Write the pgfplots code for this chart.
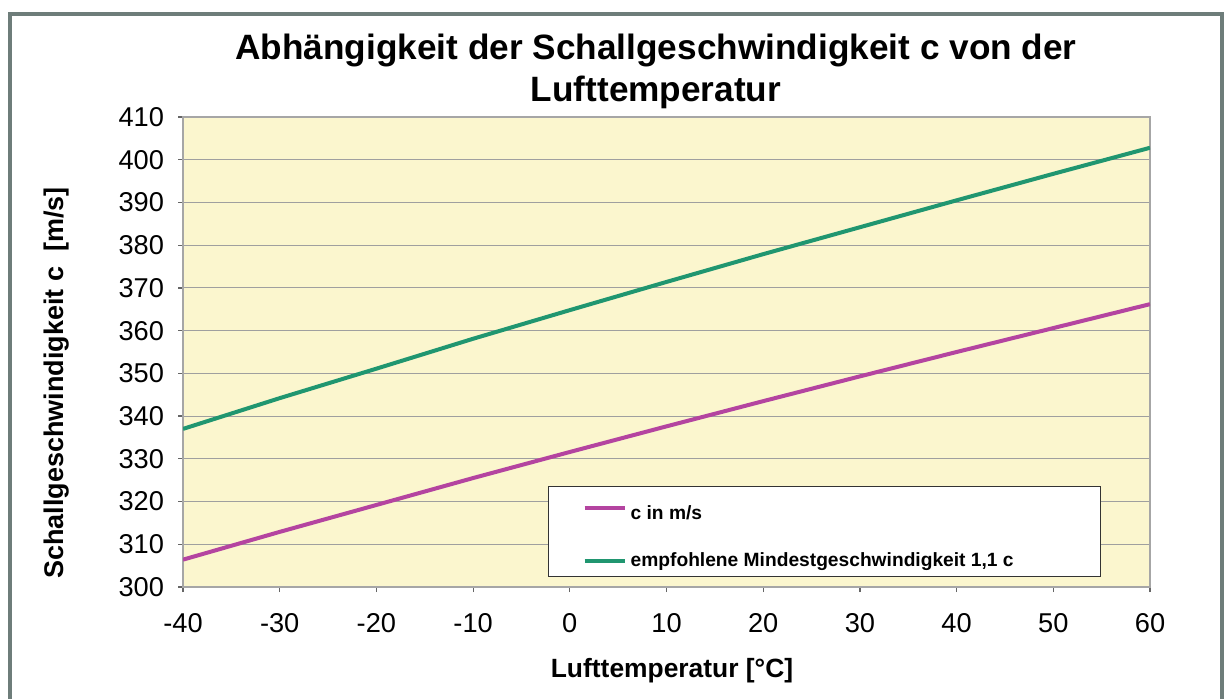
\documentclass[border=0pt]{standalone}
\usepackage{pgfplots}
\pgfplotsset{compat=1.18}
\usepackage{fontspec}
\setmainfont{Liberation Sans}
\definecolor{bgy}{RGB}{251,246,206}
\definecolor{cmag}{RGB}{180,68,160}
\definecolor{cgrn}{RGB}{32,150,112}
\definecolor{framec}{RGB}{110,125,122}
\begin{document}
\begin{tikzpicture}[x=1pt,y=1pt]
\path[use as bounding box] (0,0) rectangle (613,349);
\fill[white] (0,0) rectangle (613,349);
\draw[framec, line width=2pt] (5,-20) -- (5,342) -- (611,342) -- (611,-20);
\begin{axis}[
 at={(91.5pt,55.5pt)}, anchor=south west, scale only axis,
 width=483.5pt, height=235pt,
 xmin=-40, xmax=60, ymin=300, ymax=410,
 xtick={-40,-30,-20,-10,0,10,20,30,40,50,60},
 xticklabels={-40,-30,-20,-10,0,10,20,30,40,50,60},
 ytick={300,310,320,330,340,350,360,370,380,390,400,410},
 yticklabels={300,310,320,330,340,350,360,370,380,390,400,410},
 tick align=outside, xtick pos=bottom, ytick pos=left,
 major tick length=2.5pt,
 ymajorgrids, grid style={gray!75, line width=0.5pt},
 axis background/.style={fill=bgy},
 axis line style={gray!70, line width=0.6pt},
 tick style={gray!80!black, line width=0.6pt},
 ticklabel style={font=\fontsize{13.6}{15}\selectfont, black},
 xticklabel style={yshift=-7pt},
 yticklabel style={xshift=-3.5pt},
 legend style={at={(0.3775,0.0213)}, anchor=south west, draw=black!80, line width=0.6pt,
   fill=white, font=\bfseries\fontsize{9.6}{11.5}\selectfont, inner xsep=17pt, inner ysep=1.5pt,
   row sep=11pt},
 legend cell align=left,
 legend image code/.code={\draw[#1, line width=2pt] (0pt,0pt) -- (20pt,0pt);},
]
\addplot[cmag, line width=2pt] coordinates {
(-40,306.4) (-30,312.9) (-20,319.2) (-10,325.5) (0,331.6) (10,337.6)
(20,343.5) (30,349.3) (40,355.0) (50,360.6) (60,366.2)};
\addlegendentry{\makebox[216pt][l]{\rule{0pt}{13pt}c in m/s}}
\addplot[cgrn, line width=2pt] coordinates {
(-40,337.0) (-30,344.2) (-20,351.1) (-10,358.1) (0,364.8) (10,371.4)
(20,377.9) (30,384.2) (40,390.5) (50,396.7) (60,402.8)};
\addlegendentry{\makebox[216pt][l]{empfohlene Mindestgeschwindigkeit 1,1 c}}
\end{axis}
\node[font=\bfseries\fontsize{17.6}{21}\selectfont, align=center] at (328,313.5)
 {Abhängigkeit der Schallgeschwindigkeit c von der\\Lufttemperatur};
\node[rotate=90, font=\bfseries\fontsize{13.5}{16}\selectfont] at (28.5,157.5)
 {Schallgeschwindigkeit c\ \ [m/s]};
\node[font=\bfseries\fontsize{13.2}{16}\selectfont] at (336,13.5) {Lufttemperatur [°C]};
\end{tikzpicture}
\end{document}
